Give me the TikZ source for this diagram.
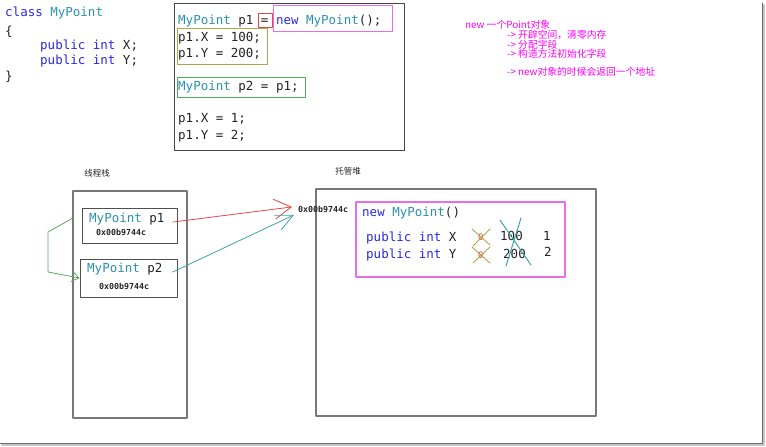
\documentclass[tikz,border=0pt]{standalone}
\usepackage{fontspec}
\setmonofont{DejaVu Sans Mono}
\newfontfamily\cjk{Noto Sans CJK SC}
\usetikzlibrary{arrows.meta,positioning}
\definecolor{kwblue}{RGB}{40,40,225}
\definecolor{typeteal}{RGB}{43,145,175}
\definecolor{codetxt}{RGB}{35,35,35}
\definecolor{boxgray}{RGB}{120,120,120}
\definecolor{hlmag}{RGB}{232,110,232}
\definecolor{notemag}{RGB}{250,0,250}
\definecolor{hlolive}{RGB}{175,165,75}
\definecolor{hlgreen}{RGB}{85,170,85}
\definecolor{hlred}{RGB}{230,70,70}
\definecolor{refteal}{RGB}{60,165,160}
\newcommand{\kwd}[1]{\textcolor{kwblue}{#1}}
\newcommand{\tpe}[1]{\textcolor{typeteal}{#1}}
\newcommand{\codefont}{\fontsize{12.5}{14}\selectfont\ttfamily}
\newcommand{\addrfont}{\fontsize{8.3}{9}\selectfont\ttfamily\bfseries}
\tikzset{
  code/.style={anchor=base west, inner sep=0pt, font=\codefont, text=codetxt},
  addr/.style={anchor=base west, inner sep=0pt, font=\addrfont, text=codetxt},
  note/.style={anchor=west, inner sep=0pt, font=\cjk\fontsize{9.8}{10}\selectfont, text=notemag},
  areabox/.style={draw=boxgray, line width=1.1pt},
  slotbox/.style={draw=codetxt!80, line width=0.8pt},
  title/.style={font=\cjk\fontsize{8.5}{9}\selectfont, text=codetxt},
}
\begin{document}
\begin{tikzpicture}[x=1pt, y=-1pt, line join=round, line cap=round]
  \useasboundingbox (0,0) rectangle (766,447);
  % screenshot frame
  \draw[gray!45, line width=2pt] (764,5) -- (764,445) -- (2,445);
  \draw[gray!85!black, line width=1pt] (762,3) -- (762,443) -- (0,443);

  % class declaration
  \node[code] (cls) at (5,16.5) {\kwd{class} \tpe{MyPoint}};
  \node[code] (lb) at (5,35) {\{};
  \node[code] (fx) at (40,49.5) {\kwd{public int} X;};
  \node[code] (fy) at (40,64.5) {\kwd{public int} Y;};
  \node[code] (rb) at (5,80) {\}};

  % main code
  \draw[draw=codetxt!85, line width=0.9pt] (174,3) rectangle (404,150);
  \node[code] (l1) at (178,24.5) {\tpe{MyPoint} p1 = \kwd{new} \tpe{MyPoint}();};
  \node[code] (l2) at (178,41.5) {p1.X = 100;};
  \node[code] (l3) at (178,57.5) {p1.Y = 200;};
  \node[code] (l4) at (178,90.5) {\tpe{MyPoint} p2 = p1;};
  \node[code] (l5) at (178,122.5) {p1.X = 1;};
  \node[code] (l6) at (178,139.5) {p1.Y = 2;};
  \draw[hlred, line width=0.9pt] (258,13) rectangle (272,27);
  \draw[hlmag, line width=1pt] (273,5) rectangle (392,31);
  \draw[hlolive, line width=1pt] (177,28) rectangle (267,64);
  \draw[hlgreen, line width=1pt] (177,77) rectangle (305,97);

  % notes
  \node[note] (n1) at (465,25) {new 一个Point对象};
  \node[note] (n2) at (507,35) {-> 开辟空间，清零内存};
  \node[note] (n3) at (507,44.5) {-> 分配字段};
  \node[note] (n4) at (507,54) {-> 构造方法初始化字段};
  \node[note] (n5) at (507,72) {-> new对象的时候会返回一个地址};

  % stack
  \node[title] (stacklbl) at (97,173) {线程栈};
  \node[areabox, minimum width=114pt, minimum height=227pt] (stack) at (130,304.5) {};
  \node[slotbox, minimum width=95pt, minimum height=35pt] (p1slot) at (129.5,225.5) {};
  \node[slotbox, minimum width=97pt, minimum height=38pt] (p2slot) at (128.5,278) {};
  \node[code] (p1var) at (89,222.5) {\tpe{MyPoint} p1};
  \node[addr] (p1addr) at (96,235) {0x00b9744c};
  \node[code] (p2var) at (87,272.5) {\tpe{MyPoint} p2};
  \node[addr] (p2addr) at (99,289) {0x00b9744c};

  % heap
  \node[title] (heaplbl) at (348,171) {托管堆};
  \node[areabox, minimum width=280pt, minimum height=227pt] (heap) at (456,302.5) {};
  \node[addr] (haddr) at (298,212) {0x00b9744c};
  \node[draw=hlmag, line width=1.2pt, minimum width=209pt, minimum height=75pt] (obj) at (460.5,239.5) {};
  \node[code] (onew) at (362,216.5) {\kwd{new} \tpe{MyPoint}()};
  \node[code] (ox) at (366,241.5) {\kwd{public int} X};
  \node[code] (oy) at (366,258.5) {\kwd{public int} Y};
  \node[code, font=\fontsize{9}{10}\selectfont\ttfamily, text=hlred] (x0) at (478,240.5) {0};
  \node[code, font=\fontsize{9}{10}\selectfont\ttfamily, text=hlred] (y0) at (478,258) {0};
  \draw[hlolive, line width=0.9pt] (472,229) -- (490,245) (490,229) -- (473,246);
  \draw[hlolive, line width=0.9pt] (472,247) -- (490,263) (490,247) -- (473,263);
  \node[code] (x100) at (500,240) {100};
  \node[code] (y200) at (503,258.5) {200};
  \draw[refteal, line width=1pt] (500,220) -- (531,265) (521,218) -- (506,266);
  \node[code] (x1) at (543,240.5) {1};
  \node[code] (y2) at (544,256.5) {2};

  % references
  \draw[hlred, line width=0.8pt, -{Straight Barb[length=17pt,width=20pt]}]
    ([xshift=8pt,yshift=-3pt]p1var.east) -- ([xshift=-6pt,yshift=2pt]haddr.west);
  \draw[refteal, line width=0.8pt, -{Straight Barb[length=17pt,width=16pt]}]
    ([xshift=10pt,yshift=-3pt]p2var.east) -- ([xshift=-4pt,yshift=-6pt]haddr.west);
  \coordinate (gstart) at (73,218);
  \draw[hlgreen, line width=0.8pt, -{Straight Barb[length=7pt,width=10pt]}]
    (gstart) -- ++(-25,14) -- ++(0,40) -- (p2slot.west);
\end{tikzpicture}
\end{document}
